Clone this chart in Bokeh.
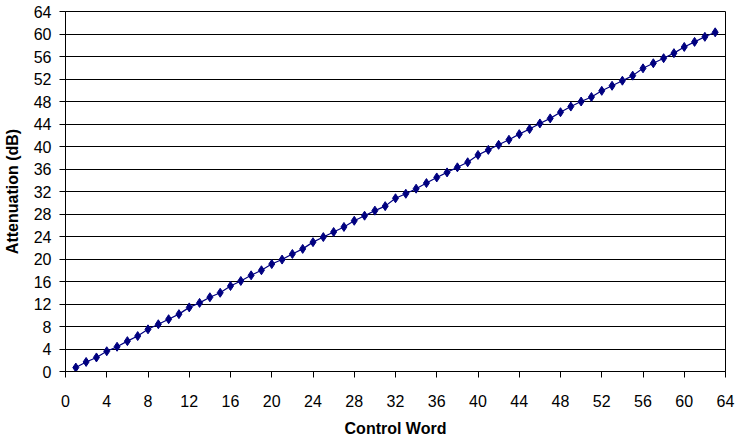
from bokeh.plotting import figure
from bokeh.models import FixedTicker, Range1d
from bokeh.embed import file_html
from bokeh.resources import INLINE

control_word = [1, 2, 3, 4, 5, 6, 7, 8, 9, 10, 11, 12, 13, 14, 15, 16,
                17, 18, 19, 20, 21, 22, 23, 24, 25, 26, 27, 28, 29, 30, 31, 32,
                33, 34, 35, 36, 37, 38, 39, 40, 41, 42, 43, 44, 45, 46, 47, 48,
                49, 50, 51, 52, 53, 54, 55, 56, 57, 58, 59, 60, 61, 62, 63]
attenuation_db = [0.7, 1.7, 2.5, 3.6, 4.4, 5.4, 6.3, 7.5, 8.4, 9.3, 10.2, 11.4, 12.2, 13.2, 14.0, 15.2,
                  16.1, 17.1, 18.0, 19.1, 19.9, 20.9, 21.8, 23.0, 23.9, 24.8, 25.7, 26.8, 27.7, 28.6, 29.4, 30.8,
                  31.6, 32.5, 33.5, 34.5, 35.4, 36.3, 37.2, 38.5, 39.4, 40.3, 41.2, 42.2, 43.1, 44.1, 45.0, 46.1,
                  47.1, 48.0, 48.8, 49.9, 50.8, 51.7, 52.6, 53.9, 54.8, 55.7, 56.6, 57.7, 58.6, 59.5, 60.3]
x_ticks = [0, 4, 8, 12, 16, 20, 24, 28, 32, 36, 40, 44, 48, 52, 56, 60, 64]
y_ticks = [0, 4, 8, 12, 16, 20, 24, 28, 32, 36, 40, 44, 48, 52, 56, 60, 64]

FONT = "Liberation Sans"
NAVY = "#000080"

p = figure(width=735, height=441, output_backend="svg", toolbar_location=None,
           x_range=Range1d(0, 64), y_range=Range1d(0, 64),
           min_border_left=64, min_border_right=10, min_border_top=11, min_border_bottom=70)
p.background_fill_color = "white"
p.border_fill_color = "white"
p.outline_line_color = "black"
p.outline_line_width = 1

p.line(control_word, attenuation_db, line_color=NAVY, line_width=1.2)
p.scatter(control_word, attenuation_db, marker="diamond", size=9,
          fill_color=NAVY, line_color=NAVY)

p.xgrid.grid_line_color = None
p.ygrid.grid_line_color = "black"
p.ygrid.grid_line_width = 1
p.ygrid.ticker = FixedTicker(ticks=y_ticks)

for ax in (p.xaxis[0], p.yaxis[0]):
    ax.axis_line_color = "black"
    ax.major_tick_line_color = "black"
    ax.minor_tick_line_color = None
    ax.major_tick_in = 0
    ax.major_tick_out = 6
    ax.major_label_text_font = FONT
    ax.major_label_text_font_size = "16px"
    ax.major_label_text_color = "black"
    ax.axis_label_text_font = FONT
    ax.axis_label_text_font_size = "16px"
    ax.axis_label_text_font_style = "bold"
    ax.axis_label_text_color = "black"

p.xaxis.ticker = FixedTicker(ticks=x_ticks)
p.yaxis.ticker = FixedTicker(ticks=y_ticks)
p.xaxis.axis_label = "Control Word"
p.yaxis.axis_label = "Attenuation (dB)"
p.xaxis.major_label_standoff = 17
p.yaxis.major_label_standoff = 8
p.xaxis.axis_label_standoff = 10
p.yaxis.axis_label_standoff = 10

open("out.html", "w").write(file_html(p, INLINE))
